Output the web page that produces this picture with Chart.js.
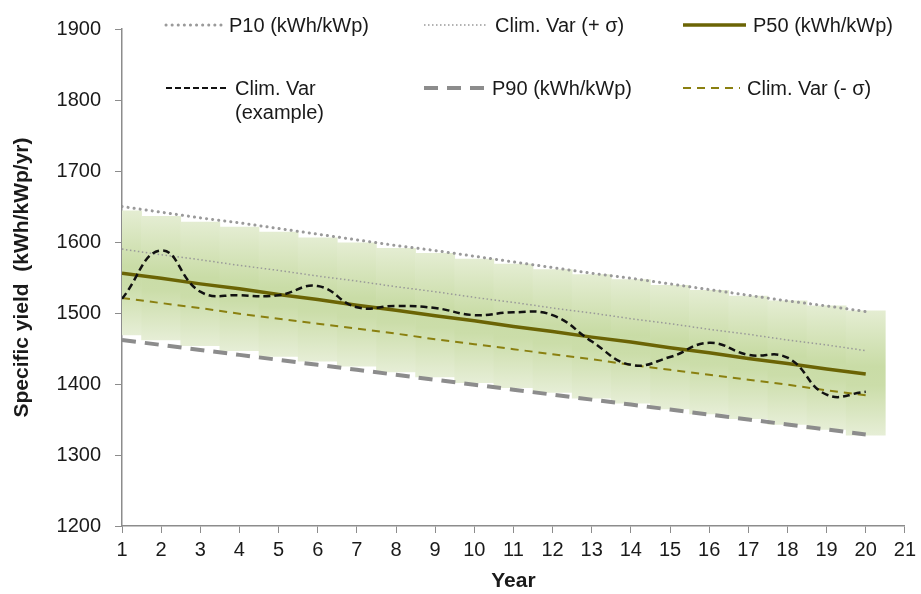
<!DOCTYPE html>
<html>
<head>
<meta charset="utf-8">
<script src="https://cdn.jsdelivr.net/npm/chart.js@4"></script>
<style>
  html, body { margin: 0; padding: 0; background: #fff; }
  #wrap { width: 921px; height: 594px; }
</style>
</head>
<body>
<div id="wrap"><canvas id="chart" width="921" height="594"></canvas></div>
<script>
const years = [1,2,3,4,5,6,7,8,9,10,11,12,13,14,15,16,17,18,19,20];
const p10 = [1650,1642,1634,1627,1619,1611,1603,1595,1588,1580,1572,1564,1556,1549,1541,1533,1525,1517,1510,1502];
const climPlus = [1590,1582,1575,1567,1560,1552,1545,1537,1530,1522,1515,1507,1500,1492,1485,1477,1470,1462,1455,1447];
const p50 = [1556,1549,1541,1534,1526,1519,1511,1504,1496,1489,1481,1474,1466,1459,1451,1444,1436,1429,1421,1414];
const climMinus = [1521,1514,1507,1499,1492,1485,1478,1471,1463,1456,1449,1442,1435,1427,1420,1413,1406,1399,1391,1384];
const p90 = [1462,1455,1448,1441,1434,1427,1420,1413,1406,1399,1392,1385,1378,1371,1364,1357,1350,1343,1336,1329];
const climExample = [1520,1588,1530,1525,1525,1538,1508,1510,1507,1497,1501,1497,1460,1427,1438,1458,1441,1437,1385,1389];
const bandTop = [1644,1636,1628,1621,1614,1606,1599,1591,1584,1576,1569,1561,1554,1547,1539,1532,1524,1517,1510,1503];
const bandBottom = [1469,1462,1454,1447,1439,1432,1425,1417,1410,1402,1395,1388,1380,1373,1365,1358,1351,1343,1336,1328];

const FONT = "'Liberation Sans', Arial, sans-serif";
const AXIS = '#8c8c8c';
const TEXT = '#1a1a1a';

function pts(vals) {
  return years.map((x, i) => ({ x: x, y: vals[i] }));
}

// each year's band: pale at the edges, greener in the middle
function bandColor(ctx) {
  const chart = ctx.chart;
  if (!chart.chartArea || ctx.dataIndex === undefined) return '#d3e3b8';
  const y = chart.scales.y;
  const t = y.getPixelForValue(bandTop[ctx.dataIndex]);
  const b = y.getPixelForValue(bandBottom[ctx.dataIndex]);
  const g = chart.ctx.createLinearGradient(0, t, 0, b);
  g.addColorStop(0, '#e4edd2');
  g.addColorStop(0.45, '#c9dca6');
  g.addColorStop(0.6, '#cbdda9');
  g.addColorStop(1, '#e6eed6');
  return g;
}

const legendItems = [
  { label: ['P10 (kWh/kWp)'], x: 166, y: 25, len: 56, color: '#9a9a9a', width: 3, dash: [0.1, 6], cap: 'round' },
  { label: ['Clim. Var (+ σ)'], x: 424, y: 25, len: 64, color: '#999999', width: 1.5, dash: [1.5, 2.5], cap: 'butt' },
  { label: ['P50 (kWh/kWp)'], x: 683, y: 25, len: 63, color: '#6b6405', width: 3.5, dash: [], cap: 'butt' },
  { label: ['Clim. Var', '(example)'], x: 166, y: 88, len: 62, color: '#111111', width: 2, dash: [6, 3], cap: 'butt' },
  { label: ['P90 (kWh/kWp)'], x: 424, y: 88, len: 61, color: '#8c8c8c', width: 4, dash: [14, 9], cap: 'butt' },
  { label: ['Clim. Var (- σ)'], x: 683, y: 88, len: 57, color: '#8a8010', width: 2, dash: [8, 6], cap: 'butt' }
];

const legendPlugin = {
  id: 'customLegend',
  afterDraw(chart) {
    const c = chart.ctx;
    c.save();
    legendItems.forEach(it => {
      c.beginPath();
      c.strokeStyle = it.color;
      c.lineWidth = it.width;
      c.lineCap = it.cap;
      c.setLineDash(it.dash);
      c.moveTo(it.x, it.y);
      c.lineTo(it.x + it.len, it.y);
      c.stroke();
      c.setLineDash([]);
      c.fillStyle = TEXT;
      c.font = '20px ' + FONT;
      c.textBaseline = 'middle';
      c.textAlign = 'left';
      it.label.forEach((txt, k) => {
        c.fillText(txt, it.x + it.len + 7, it.y + 1 + k * 24);
      });
    });
    c.restore();
  }
};

const lineBase = { type: 'line', pointRadius: 0, fill: false, tension: 0, order: 1 };

new Chart(document.getElementById('chart'), {
  type: 'bar',
  data: {
    datasets: [
      Object.assign({}, lineBase, { label: 'P10 (kWh/kWp)', data: pts(p10), borderColor: '#9a9a9a', borderWidth: 3, borderDash: [0.1, 6], borderCapStyle: 'round' }),
      Object.assign({}, lineBase, { label: 'Clim. Var (+ σ)', data: pts(climPlus), borderColor: '#999999', borderWidth: 1.5, borderDash: [1.5, 2.5] }),
      Object.assign({}, lineBase, { label: 'P50 (kWh/kWp)', data: pts(p50), borderColor: '#6b6405', borderWidth: 3.5 }),
      Object.assign({}, lineBase, { label: 'Clim. Var (example)', data: pts(climExample), borderColor: '#111111', borderWidth: 2.5, borderDash: [7, 4], tension: 0.45, order: 0 }),
      Object.assign({}, lineBase, { label: 'P90 (kWh/kWp)', data: pts(p90), borderColor: '#8c8c8c', borderWidth: 4, borderDash: [14, 9] }),
      Object.assign({}, lineBase, { label: 'Clim. Var (- σ)', data: pts(climMinus), borderColor: '#8a8010', borderWidth: 2, borderDash: [8, 6] }),
      {
        type: 'bar',
        label: 'band',
        data: years.map((x, i) => ({ x: x, y: [bandBottom[i], bandTop[i]] })),
        backgroundColor: bandColor,
        borderWidth: 0,
        barPercentage: 1,
        categoryPercentage: 1,
        clip: 0,
        order: 10
      }
    ]
  },
  options: {
    responsive: false,
    animation: false,
    layout: { padding: { top: 29, right: 13, left: 0, bottom: 0 } },
    plugins: { legend: { display: false }, tooltip: { enabled: false } },
    scales: {
      x: {
        type: 'linear',
        min: 1,
        max: 21,
        offset: false,
        afterFit(scale) { scale.height = 68; },
        ticks: { stepSize: 1, color: TEXT, font: { family: FONT, size: 20 }, padding: 5, maxRotation: 0, autoSkip: false },
        grid: { drawOnChartArea: false, color: AXIS, tickLength: 7, offset: false },
        border: { color: AXIS, width: 1.5 },
        title: { display: true, text: 'Year', color: TEXT, font: { family: FONT, size: 21, weight: 'bold' }, padding: { top: 0, bottom: 0 } }
      },
      y: {
        min: 1200,
        max: 1900,
        afterFit(scale) { scale.width = 122; },
        ticks: { stepSize: 100, color: TEXT, font: { family: FONT, size: 20 }, padding: 14, callback: v => String(v) },
        grid: { drawOnChartArea: false, color: AXIS, tickLength: 7 },
        border: { color: AXIS, width: 1.5 },
        title: { display: true, text: 'Specific yield  (kWh/kWp/yr)', color: TEXT, font: { family: FONT, size: 21, weight: 'bold' }, padding: { top: 10, bottom: 0 } }
      }
    }
  },
  plugins: [legendPlugin]
});
</script>
</body>
</html>
